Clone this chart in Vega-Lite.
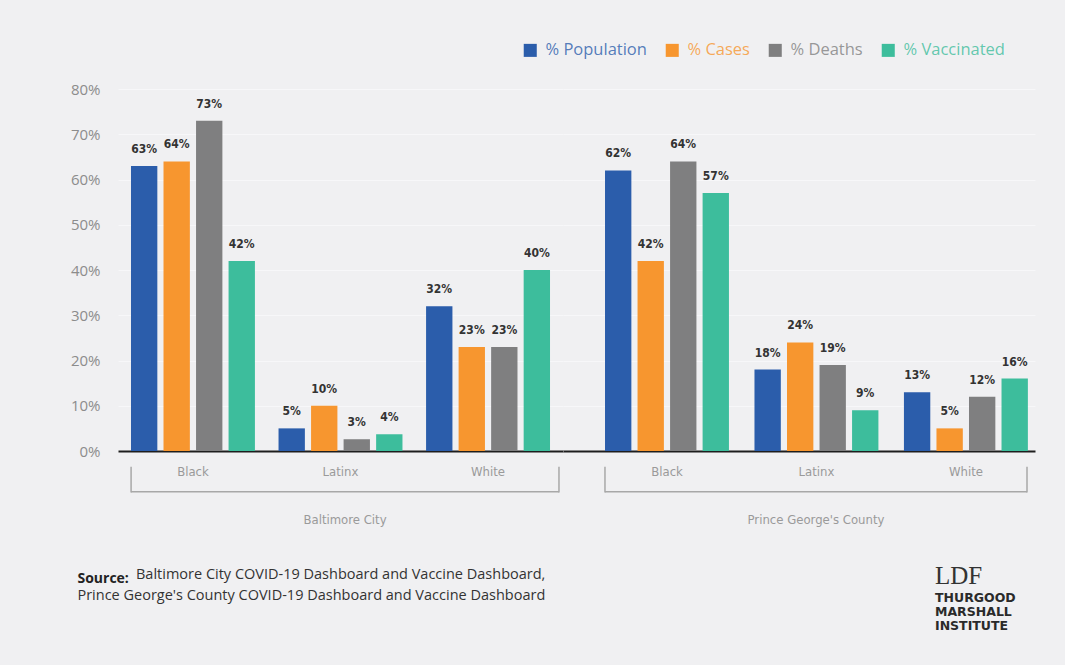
{
  "$schema": "https://vega.github.io/schema/vega-lite/v6.json",
  "background": "#f0f0f2",
  "padding": {"left": 70, "top": 42, "right": 30, "bottom": 35},
  "datasets": {
    "bars": [
      {"region": "Baltimore City", "group": "Black", "measure": "% Population", "value": 0.63},
      {"region": "Baltimore City", "group": "Black", "measure": "% Cases", "value": 0.64},
      {"region": "Baltimore City", "group": "Black", "measure": "% Deaths", "value": 0.73},
      {"region": "Baltimore City", "group": "Black", "measure": "% Vaccinated", "value": 0.42},
      {"region": "Baltimore City", "group": "Latinx", "measure": "% Population", "value": 0.05},
      {"region": "Baltimore City", "group": "Latinx", "measure": "% Cases", "value": 0.10},
      {"region": "Baltimore City", "group": "Latinx", "measure": "% Deaths", "value": 0.026},
      {"region": "Baltimore City", "group": "Latinx", "measure": "% Vaccinated", "value": 0.037},
      {"region": "Baltimore City", "group": "White", "measure": "% Population", "value": 0.32},
      {"region": "Baltimore City", "group": "White", "measure": "% Cases", "value": 0.23},
      {"region": "Baltimore City", "group": "White", "measure": "% Deaths", "value": 0.23},
      {"region": "Baltimore City", "group": "White", "measure": "% Vaccinated", "value": 0.40},
      {"region": "Prince George's County", "group": "Black", "measure": "% Population", "value": 0.62},
      {"region": "Prince George's County", "group": "Black", "measure": "% Cases", "value": 0.42},
      {"region": "Prince George's County", "group": "Black", "measure": "% Deaths", "value": 0.64},
      {"region": "Prince George's County", "group": "Black", "measure": "% Vaccinated", "value": 0.57},
      {"region": "Prince George's County", "group": "Latinx", "measure": "% Population", "value": 0.18},
      {"region": "Prince George's County", "group": "Latinx", "measure": "% Cases", "value": 0.24},
      {"region": "Prince George's County", "group": "Latinx", "measure": "% Deaths", "value": 0.19},
      {"region": "Prince George's County", "group": "Latinx", "measure": "% Vaccinated", "value": 0.09},
      {"region": "Prince George's County", "group": "White", "measure": "% Population", "value": 0.13},
      {"region": "Prince George's County", "group": "White", "measure": "% Cases", "value": 0.05},
      {"region": "Prince George's County", "group": "White", "measure": "% Deaths", "value": 0.12},
      {"region": "Prince George's County", "group": "White", "measure": "% Vaccinated", "value": 0.16}
    ],
    "regions": [
      {"region": "Baltimore City"},
      {"region": "Prince George's County"}
    ]
  },
  "title": {
    "text": "Source:",
    "subtitle": "Prince George's County COVID-19 Dashboard and Vaccine Dashboard",
    "orient": "bottom",
    "anchor": "start",
    "frame": "bounds",
    "offset": -61,
    "dx": 7,
    "font": "Open Sans",
    "fontSize": 14,
    "fontWeight": "bold",
    "color": "#222222",
    "subtitleFont": "Open Sans",
    "subtitleFontSize": 14.5,
    "subtitleFontWeight": "normal",
    "subtitleColor": "#333333",
    "subtitlePadding": 3
  },
  "spacing": 0,
  "hconcat": [
    {
      "width": 445,
      "height": 362,
      "title": {
        "text": "Baltimore City COVID-19 Dashboard and Vaccine Dashboard,",
        "orient": "bottom",
        "anchor": "start",
        "frame": "group",
        "dx": 18,
        "offset": 41,
        "font": "Open Sans",
        "fontSize": 14.5,
        "fontWeight": "normal",
        "color": "#333333"
      },
      "resolve": {"scale": {"x": "independent"}, "axis": {"x": "independent"}},
      "layer": [
        {
          "data": {"name": "bars"},
          "transform": [{"filter": "datum.region === 'Baltimore City'"}],
          "encoding": {
            "x": {
              "field": "group", "type": "nominal", "sort": ["Black", "Latinx", "White"],
              "scale": {"paddingInner": 0.16, "paddingOuter": 0.088},
              "axis": {"title": null, "ticks": false, "labelAngle": 0, "labelPadding": 14, "labelFontSize": 13, "labelColor": "#9a9a9a", "labelFont": "DejaVu Sans Condensed", "domainColor": "#1e1e1e", "domainWidth": 2, "grid": false}
            },
            "xOffset": {
              "field": "measure", "type": "nominal",
              "sort": ["% Population", "% Cases", "% Deaths", "% Vaccinated"],
              "scale": {"paddingInner": 0.19, "paddingOuter": 0}
            },
            "y": {
              "field": "value", "type": "quantitative",
              "scale": {"domain": [0, 0.8], "nice": false},
              "axis": {"title": null, "format": ".0%", "values": [0, 0.1, 0.2, 0.3, 0.4, 0.5, 0.6, 0.7, 0.8], "domain": false, "ticks": false, "labelPadding": 18, "labelFontSize": 15, "labelColor": "#8c8c8c", "labelFont": "Open Sans", "grid": true, "gridColor": "#f7f7f9", "gridWidth": 1}
            }
          },
          "layer": [
            {
              "mark": {"type": "bar"},
              "encoding": {
                "color": {
                  "field": "measure", "type": "nominal",
                  "scale": {"domain": ["% Population", "% Cases", "% Deaths", "% Vaccinated"], "range": ["#2b5dab", "#f7962f", "#7f7f80", "#3dbd9c"]},
                  "legend": {
                    "orient": "none", "legendX": 404, "legendY": -47, "direction": "horizontal", "columns": 4, "title": null,
                    "symbolType": "square", "symbolSize": 170, "symbolStrokeWidth": 0, "symbolOpacity": 1,
                    "labelFontSize": 16.5, "labelFont": "Open Sans", "columnPadding": 17, "labelOffset": 7,
                    "encode": {"labels": {"update": {"fill": {"scale": "color", "field": "value"}, "fillOpacity": {"value": 0.8}}}}
                  }
                }
              }
            },
            {
              "mark": {"type": "text", "baseline": "alphabetic", "dy": -13, "font": "DejaVu Sans Condensed", "fontWeight": "bold", "fontSize": 12, "fill": "#333333"},
              "encoding": {"text": {"field": "value", "type": "quantitative", "format": ".0%"}}
            }
          ]
        },
        {
          "data": {"name": "regions"},
          "transform": [{"filter": "datum.region === 'Baltimore City'"}],
          "layer": [
            {
              "mark": {"type": "rule", "color": "#a8a8a8", "strokeWidth": 1.5},
              "encoding": {
                "x": {"field": "region", "type": "nominal", "bandPosition": 0, "scale": {"paddingInner": 0, "paddingOuter": 0.02, "align": 0.765}, "axis": null},
                "y": {"datum": -0.035, "type": "quantitative", "scale": {"domain": [0, 0.8], "nice": false},
                  "axis": {"title": null, "format": ".0%", "values": [0, 0.1, 0.2, 0.3, 0.4, 0.5, 0.6, 0.7, 0.8], "domain": false, "ticks": false, "labelPadding": 18, "labelFontSize": 15, "labelColor": "#8c8c8c", "labelFont": "Open Sans", "grid": true, "gridColor": "#f7f7f9", "gridWidth": 1}},
                "y2": {"datum": -0.0915}
              }
            },
            {
              "mark": {"type": "rule", "color": "#a8a8a8", "strokeWidth": 1.5},
              "encoding": {
                "x": {"field": "region", "type": "nominal", "bandPosition": 1, "scale": {"paddingInner": 0, "paddingOuter": 0.02, "align": 0.765}, "axis": null},
                "y": {"datum": -0.035, "type": "quantitative", "scale": {"domain": [0, 0.8], "nice": false},
                  "axis": {"title": null, "format": ".0%", "values": [0, 0.1, 0.2, 0.3, 0.4, 0.5, 0.6, 0.7, 0.8], "domain": false, "ticks": false, "labelPadding": 18, "labelFontSize": 15, "labelColor": "#8c8c8c", "labelFont": "Open Sans", "grid": true, "gridColor": "#f7f7f9", "gridWidth": 1}},
                "y2": {"datum": -0.0915}
              }
            },
            {
              "mark": {"type": "bar", "color": "#a8a8a8"},
              "encoding": {
                "x": {"field": "region", "type": "nominal", "scale": {"paddingInner": 0, "paddingOuter": 0.02, "align": 0.765}, "axis": null},
                "y": {"datum": -0.0885, "type": "quantitative", "scale": {"domain": [0, 0.8], "nice": false},
                  "axis": {"title": null, "format": ".0%", "values": [0, 0.1, 0.2, 0.3, 0.4, 0.5, 0.6, 0.7, 0.8], "domain": false, "ticks": false, "labelPadding": 18, "labelFontSize": 15, "labelColor": "#8c8c8c", "labelFont": "Open Sans", "grid": true, "gridColor": "#f7f7f9", "gridWidth": 1}},
                "y2": {"datum": -0.0918}
              }
            },
            {
              "mark": {"type": "text", "baseline": "middle", "font": "DejaVu Sans Condensed", "fontSize": 13, "fill": "#9a9a9a"},
              "encoding": {
                "x": {"field": "region", "type": "nominal", "scale": {"paddingInner": 0, "paddingOuter": 0.02, "align": 0.765}, "axis": null},
                "y": {"datum": -0.153, "type": "quantitative", "scale": {"domain": [0, 0.8], "nice": false},
                  "axis": {"title": null, "format": ".0%", "values": [0, 0.1, 0.2, 0.3, 0.4, 0.5, 0.6, 0.7, 0.8], "domain": false, "ticks": false, "labelPadding": 18, "labelFontSize": 15, "labelColor": "#8c8c8c", "labelFont": "Open Sans", "grid": true, "gridColor": "#f7f7f9", "gridWidth": 1}},
                "text": {"field": "region"}
              }
            }
          ]
        }
      ]
    },
    {
      "width": 472,
      "height": 362,
      "title": {
        "text": "LDF",
        "subtitle": ["THURGOOD", "MARSHALL", "INSTITUTE"],
        "orient": "bottom",
        "anchor": "end",
        "align": "left",
        "frame": "group",
        "dx": -100,
        "offset": 37,
        "font": "Liberation Serif",
        "fontSize": 25,
        "fontWeight": "normal",
        "color": "#333333",
        "subtitleFont": "DejaVu Sans",
        "subtitleFontWeight": "bold",
        "subtitleFontSize": 12.5,
        "subtitleColor": "#2a2a2a",
        "subtitleLineHeight": 14,
        "subtitlePadding": 3
      },
      "resolve": {"scale": {"x": "independent"}, "axis": {"x": "independent"}},
      "layer": [
        {
          "data": {"name": "bars"},
          "transform": [{"filter": "datum.region === \"Prince George's County\""}],
          "encoding": {
            "x": {
              "field": "group", "type": "nominal", "sort": ["Black", "Latinx", "White"],
              "scale": {"paddingInner": 0.17, "paddingOuter": 0.164, "align": 0.857},
              "axis": {"title": null, "ticks": false, "labelAngle": 0, "labelPadding": 14, "labelFontSize": 13, "labelColor": "#9a9a9a", "labelFont": "DejaVu Sans Condensed", "domainColor": "#1e1e1e", "domainWidth": 2, "grid": false}
            },
            "xOffset": {
              "field": "measure", "type": "nominal",
              "sort": ["% Population", "% Cases", "% Deaths", "% Vaccinated"],
              "scale": {"paddingInner": 0.19, "paddingOuter": 0}
            },
            "y": {
              "field": "value", "type": "quantitative",
              "scale": {"domain": [0, 0.8], "nice": false},
              "axis": {"title": null, "labels": false, "values": [0, 0.1, 0.2, 0.3, 0.4, 0.5, 0.6, 0.7, 0.8], "domain": false, "ticks": false, "grid": true, "gridColor": "#f7f7f9", "gridWidth": 1}
            }
          },
          "layer": [
            {
              "mark": {"type": "bar"},
              "encoding": {
                "color": {
                  "field": "measure", "type": "nominal",
                  "scale": {"domain": ["% Population", "% Cases", "% Deaths", "% Vaccinated"], "range": ["#2b5dab", "#f7962f", "#7f7f80", "#3dbd9c"]},
                  "legend": {
                    "orient": "none", "legendX": 404, "legendY": -47, "direction": "horizontal", "columns": 4, "title": null,
                    "symbolType": "square", "symbolSize": 170, "symbolStrokeWidth": 0, "symbolOpacity": 1,
                    "labelFontSize": 16.5, "labelFont": "Open Sans", "columnPadding": 17, "labelOffset": 7,
                    "encode": {"labels": {"update": {"fill": {"scale": "color", "field": "value"}, "fillOpacity": {"value": 0.8}}}}
                  }
                }
              }
            },
            {
              "mark": {"type": "text", "baseline": "alphabetic", "dy": -13, "font": "DejaVu Sans Condensed", "fontWeight": "bold", "fontSize": 12, "fill": "#333333"},
              "encoding": {"text": {"field": "value", "type": "quantitative", "format": ".0%"}}
            }
          ]
        },
        {
          "data": {"name": "regions"},
          "transform": [{"filter": "datum.region === \"Prince George's County\""}],
          "layer": [
            {
              "mark": {"type": "rule", "color": "#a8a8a8", "strokeWidth": 1.5},
              "encoding": {
                "x": {"field": "region", "type": "nominal", "bandPosition": 0, "scale": {"paddingInner": 0, "paddingOuter": 0.0592, "align": 0.84}, "axis": null},
                "y": {"datum": -0.035, "type": "quantitative", "scale": {"domain": [0, 0.8], "nice": false},
                  "axis": {"title": null, "labels": false, "values": [0, 0.1, 0.2, 0.3, 0.4, 0.5, 0.6, 0.7, 0.8], "domain": false, "ticks": false, "grid": true, "gridColor": "#f7f7f9", "gridWidth": 1}},
                "y2": {"datum": -0.0915}
              }
            },
            {
              "mark": {"type": "rule", "color": "#a8a8a8", "strokeWidth": 1.5},
              "encoding": {
                "x": {"field": "region", "type": "nominal", "bandPosition": 1, "scale": {"paddingInner": 0, "paddingOuter": 0.0592, "align": 0.84}, "axis": null},
                "y": {"datum": -0.035, "type": "quantitative", "scale": {"domain": [0, 0.8], "nice": false},
                  "axis": {"title": null, "labels": false, "values": [0, 0.1, 0.2, 0.3, 0.4, 0.5, 0.6, 0.7, 0.8], "domain": false, "ticks": false, "grid": true, "gridColor": "#f7f7f9", "gridWidth": 1}},
                "y2": {"datum": -0.0915}
              }
            },
            {
              "mark": {"type": "bar", "color": "#a8a8a8"},
              "encoding": {
                "x": {"field": "region", "type": "nominal", "scale": {"paddingInner": 0, "paddingOuter": 0.0592, "align": 0.84}, "axis": null},
                "y": {"datum": -0.0885, "type": "quantitative", "scale": {"domain": [0, 0.8], "nice": false},
                  "axis": {"title": null, "labels": false, "values": [0, 0.1, 0.2, 0.3, 0.4, 0.5, 0.6, 0.7, 0.8], "domain": false, "ticks": false, "grid": true, "gridColor": "#f7f7f9", "gridWidth": 1}},
                "y2": {"datum": -0.0918}
              }
            },
            {
              "mark": {"type": "text", "baseline": "middle", "font": "DejaVu Sans Condensed", "fontSize": 13, "fill": "#9a9a9a"},
              "encoding": {
                "x": {"field": "region", "type": "nominal", "scale": {"paddingInner": 0, "paddingOuter": 0.0592, "align": 0.84}, "axis": null},
                "y": {"datum": -0.153, "type": "quantitative", "scale": {"domain": [0, 0.8], "nice": false},
                  "axis": {"title": null, "labels": false, "values": [0, 0.1, 0.2, 0.3, 0.4, 0.5, 0.6, 0.7, 0.8], "domain": false, "ticks": false, "grid": true, "gridColor": "#f7f7f9", "gridWidth": 1}},
                "text": {"field": "region"}
              }
            }
          ]
        }
      ]
    }
  ],
  "config": {
    "view": {"stroke": null},
    "font": "Open Sans"
  }
}
